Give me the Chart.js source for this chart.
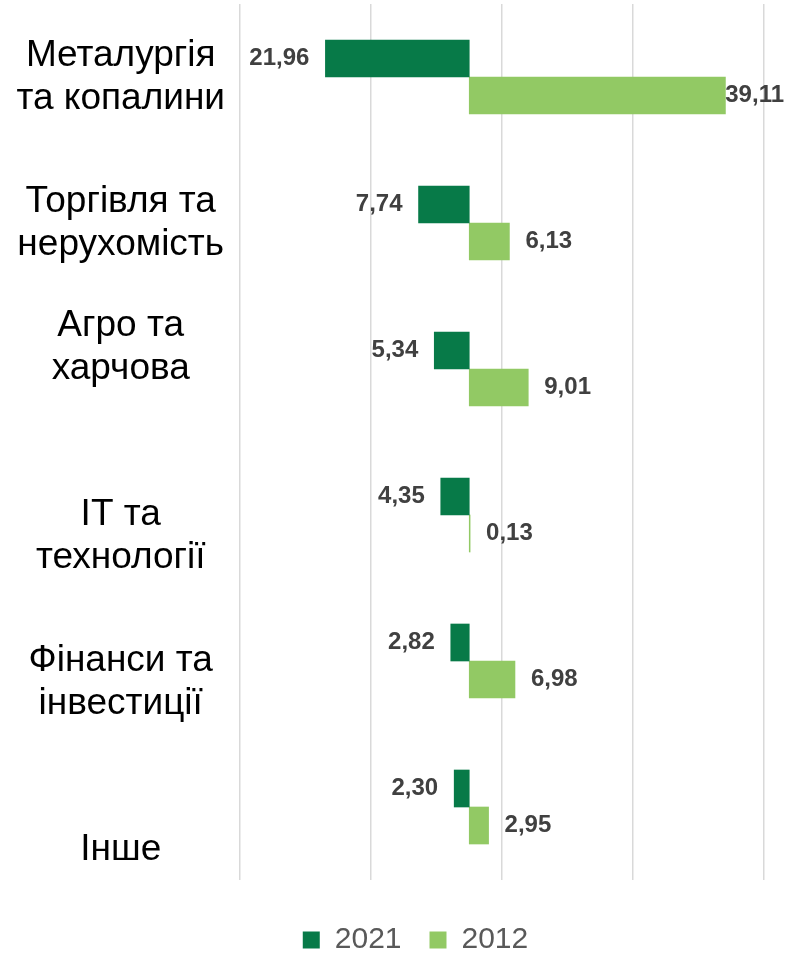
<!DOCTYPE html>
<html>
<head>
<meta charset="utf-8">
<script src="https://cdn.jsdelivr.net/npm/chart.js@4"></script>
<style>
  html, body { margin: 0; padding: 0; background: #fff; }
  #wrap { width: 801px; height: 954px; }
</style>
</head>
<body>
<div id="wrap"><canvas id="myChart"></canvas></div>
<script>
// Дані
const categories = [
  ['Металургія', 'та копалини'],
  ['Торгівля та', 'нерухомість'],
  ['Агро та', 'харчова'],
  ['ІТ та', 'технології'],
  ['Фінанси та', 'інвестиції'],
  ['Інше']
];
const values2021 = [21.96, 7.74, 5.34, 4.35, 2.82, 2.30];
const values2012 = [39.11, 6.13, 9.01, 0.13, 6.98, 2.95];
const seriesNames = ['2021', '2012'];

// зсув підписів категорій порожніми рядками (як в оригіналі)
const padBefore = [0, 0, 0, 1, 1, 2];
const padAfter = [0, 0, 1, 0, 0, 0];

const fontFamily = '"Liberation Sans", Arial, sans-serif';

// Підписи значень біля кінців стовпців
const valueLabels = {
  id: 'valueLabels',
  afterDatasetsDraw(chart) {
    const ctx = chart.ctx;
    ctx.save();
    ctx.font = 'bold 24px ' + fontFamily;
    ctx.fillStyle = '#404040';
    ctx.textBaseline = 'middle';
    chart.data.datasets.forEach((ds, di) => {
      chart.getDatasetMeta(di).data.forEach((bar, i) => {
        const v = ds.data[i];
        const text = Math.abs(v).toFixed(2).replace('.', ',');
        if (v < 0) {
          ctx.textAlign = 'right';
          ctx.fillText(text, bar.x - 16, bar.y);
        } else {
          ctx.textAlign = 'left';
          const w = ctx.measureText(text).width;
          const x = Math.min(bar.x + 16, chart.width - 17 - w);
          ctx.fillText(text, x, bar.y);
        }
      });
    });
    ctx.restore();
  }
};

// Легенда трохи правіше центру, як в оригіналі
const legendShift = {
  id: 'legendShift',
  afterLayout(chart) {
    if (chart.legend) chart.legend.left += 30;
  }
};

const data = {
  labels: categories,
  datasets: [
    {
      label: seriesNames[0],
      data: values2021.map(v => -v),
      backgroundColor: '#077a48',
      barThickness: 37
    },
    {
      label: seriesNames[1],
      data: values2012,
      backgroundColor: '#92c964',
      barThickness: 37
    }
  ]
};

const config = {
  type: 'bar',
  data,
  plugins: [valueLabels, legendShift],
  options: {
    indexAxis: 'y',
    responsive: true,
    maintainAspectRatio: false,
    animation: false,
    layout: { padding: { top: 4, right: 0, bottom: -11, left: 0 } },
    scales: {
      x: {
        min: -35,
        max: 45,
        afterFit: (scale) => {
          scale.height = 17;
          scale.paddingRight = 37;
          scale.paddingLeft = 0;
        },
        ticks: { display: false, stepSize: 20 },
        grid: { color: '#d9d9d9', lineWidth: 1.5, drawTicks: false },
        border: { display: false }
      },
      y: {
        afterFit: (scale) => {
          scale.width = 240;
          scale.paddingTop = 0;
          scale.paddingBottom = 0;
        },
        grid: { display: false, drawTicks: false },
        border: { display: false },
        ticks: {
          crossAlign: 'center',
          padding: 15,
          color: '#000',
          font: { family: fontFamily, size: 37, lineHeight: 1.17 },
          callback: function (value, index) {
            const lines = [].concat(categories[index]);
            for (let k = 0; k < padBefore[index]; k++) lines.unshift('');
            for (let k = 0; k < padAfter[index]; k++) lines.push('');
            return lines;
          }
        }
      }
    },
    plugins: {
      tooltip: { enabled: false },
      legend: {
        position: 'bottom',
        labels: {
          color: '#595959',
          boxWidth: 17,
          boxHeight: 17,
          padding: 28,
          font: { family: fontFamily, size: 30 }
        }
      }
    }
  }
};

new Chart(document.getElementById('myChart'), config);
</script>
</body>
</html>
